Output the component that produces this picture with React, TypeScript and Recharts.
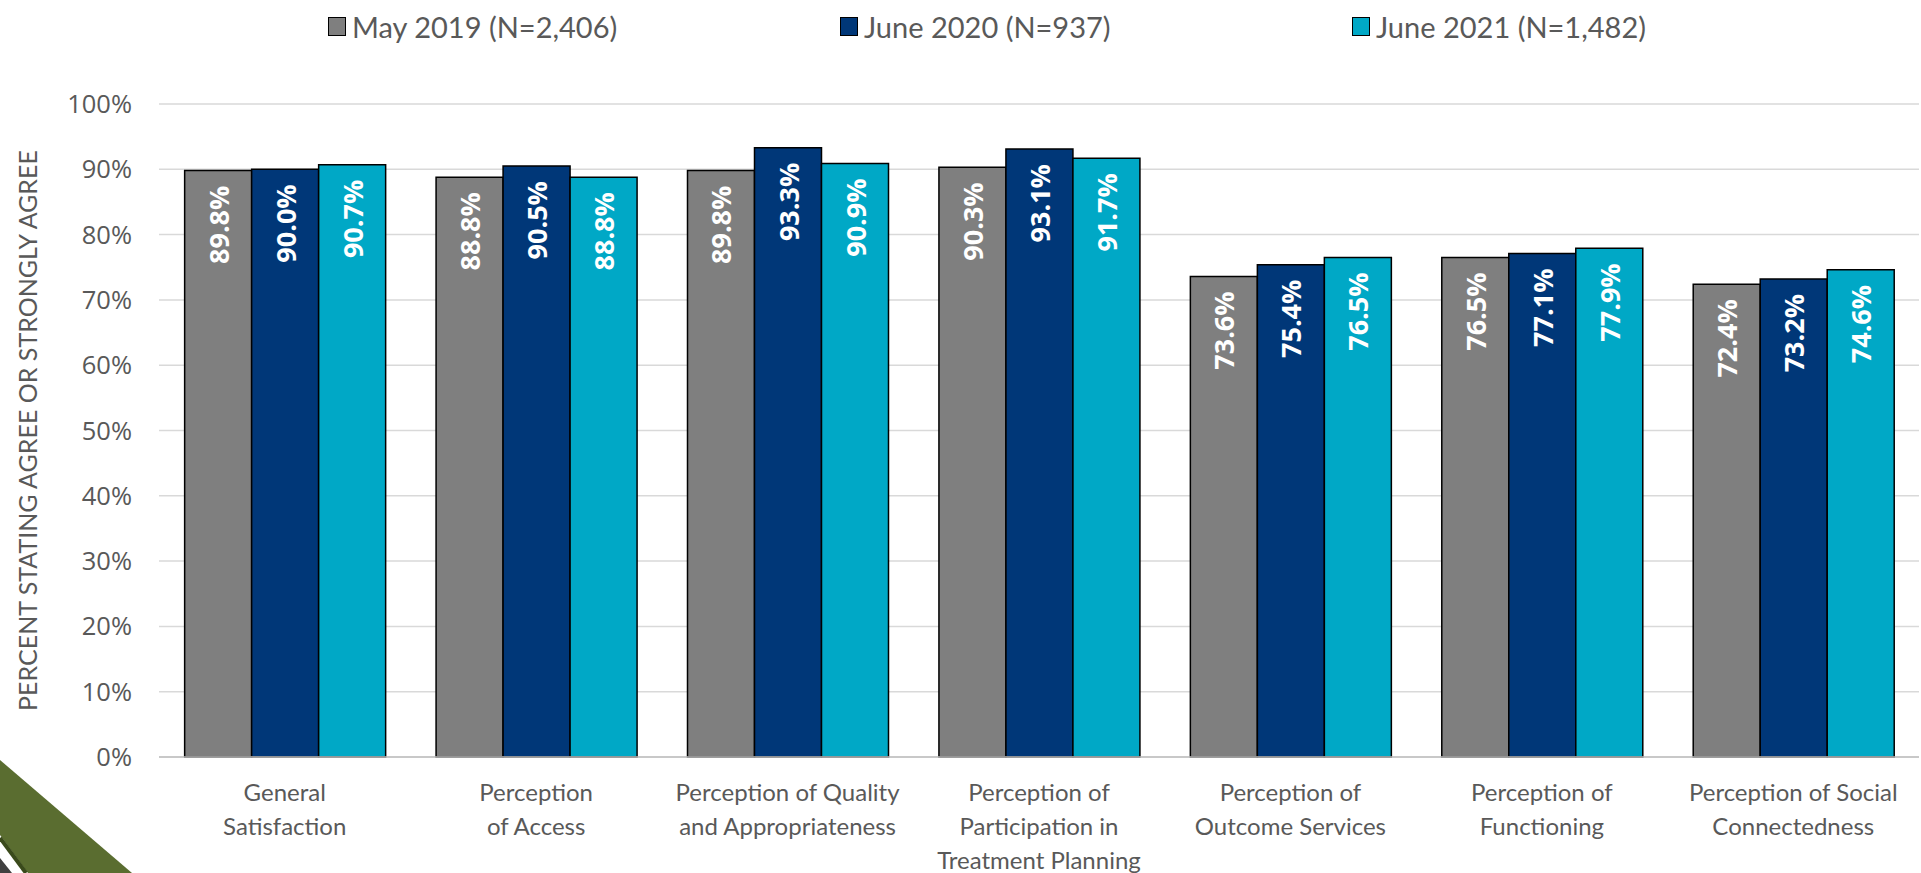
import React from "react";
import {
  BarChart,
  Bar,
  XAxis,
  YAxis,
  CartesianGrid,
  Legend,
  LabelList,
  Label,
} from "recharts";

// Survey domains along the x axis
const categories = [
  "General Satisfaction",
  "Perception of Access",
  "Perception of Quality and Appropriateness",
  "Perception of Participation in Treatment Planning",
  "Perception of Outcome Services",
  "Perception of Functioning",
  "Perception of Social Connectedness",
];

// How each category name is broken into lines under the axis
const categoryLines = [
  ["General", "Satisfaction"],
  ["Perception", "of Access"],
  ["Perception of Quality", "and Appropriateness"],
  ["Perception of", "Participation in", "Treatment Planning"],
  ["Perception of", "Outcome Services"],
  ["Perception of", "Functioning"],
  ["Perception of Social", "Connectedness"],
];

// Percent stating agree or strongly agree, per survey wave
const may2019 = [89.8, 88.8, 89.8, 90.3, 73.6, 76.5, 72.4];
const june2020 = [90.0, 90.5, 93.3, 93.1, 75.4, 77.1, 73.2];
const june2021 = [90.7, 88.8, 90.9, 91.7, 76.5, 77.9, 74.6];

const seriesNames = ["May 2019 (N=2,406)", "June 2020 (N=937)", "June 2021 (N=1,482)"];
const seriesKeys = ["may2019", "june2020", "june2021"];
const seriesColors = ["#7f7f7f", "#003778", "#00a8c6"];

const yTicks = [0, 10, 20, 30, 40, 50, 60, 70, 80, 90, 100];
const yAxisTitle = "PERCENT STATING AGREE OR STRONGLY AGREE";

const data = categories.map((category, i) => ({
  category,
  may2019: may2019[i],
  june2020: june2020[i],
  june2021: june2021[i],
}));

const TEXT_GREY = "#595959";

const CategoryTick = (props: any) => {
  const { x, y, payload } = props;
  const idx = categories.indexOf(payload.value);
  const lines = idx >= 0 ? categoryLines[idx] : [String(payload.value)];
  return (
    <text
      x={x}
      y={y}
      textAnchor="middle"
      fill={TEXT_GREY}
      fontFamily="Lato, sans-serif"
      fontSize={24}
    >
      {lines.map((line, i) => (
        <tspan key={i} x={x} y={y + 44 + i * 34}>
          {line}
        </tspan>
      ))}
    </text>
  );
};

const BarValueLabel = (props: any) => {
  const { x, y, width, value } = props;
  const cx = Number(x) + Number(width) / 2;
  const ty = Number(y) + 15;
  return (
    <text
      x={cx}
      y={ty}
      transform={`rotate(-90, ${cx}, ${ty})`}
      textAnchor="end"
      dominantBaseline="central"
      fill="#ffffff"
      fontFamily="'Open Sans', sans-serif"
      fontWeight={700}
      fontSize={27}
    >
      {`${Number(value).toFixed(1)}%`}
    </text>
  );
};

const LegendContent = () => (
  <div style={{ position: "relative", height: 0 }}>
    <div style={{ position: "absolute", left: 328, top: 0, display: "flex" }}>
      {seriesNames.map((name, i) => (
        <div
          key={name}
          style={{ width: 512, display: "flex", alignItems: "center", height: 30 }}
        >
          <span
            style={{
              display: "inline-block",
              width: 16,
              height: 17,
              background: seriesColors[i],
              border: "1.5px solid #000",
              marginRight: 6,
            }}
          />
          <span
            style={{
              fontFamily: "Lato, sans-serif",
              fontSize: 29,
              color: TEXT_GREY,
              whiteSpace: "nowrap",
            }}
          >
            {name}
          </span>
        </div>
      ))}
    </div>
  </div>
);

const AxisTitle = (props: any) => {
  const vb = props.viewBox || {};
  const cx = (vb.x ?? 0) + 27;
  const cy = (vb.y ?? 0) + (vb.height ?? 0) / 2;
  return (
    <text
      x={cx}
      y={cy}
      transform={`rotate(-90, ${cx}, ${cy})`}
      textAnchor="middle"
      dominantBaseline="central"
      fill={TEXT_GREY}
      fontFamily="Lato, sans-serif"
      fontSize={25}
    >
      {yAxisTitle}
    </text>
  );
};

export default function App() {
  return (
    <div
      style={{
        position: "absolute",
        left: 0,
        top: 0,
        width: 1921,
        height: 873,
        background: "#ffffff",
        overflow: "hidden",
      }}
    >
      <BarChart
        width={1921}
        height={873}
        data={data}
        margin={{ top: 104, right: 2, bottom: 0, left: 0 }}
        barCategoryGap="10.2%"
        barGap={0}
      >
        <CartesianGrid vertical={false} stroke="#d9d9d9" strokeWidth={1.5} />
        <Legend
          verticalAlign="top"
          content={<LegendContent />}
          wrapperStyle={{ top: 11, left: 0, width: 1921 }}
        />
        <XAxis
          dataKey="category"
          interval={0}
          height={116}
          tickLine={false}
          tickSize={0}
          tickMargin={0}
          axisLine={{ stroke: "#bfbfbf", strokeWidth: 1.5 }}
          tick={<CategoryTick />}
        />
        <YAxis
          width={159}
          domain={[0, 100]}
          ticks={yTicks}
          interval={0}
          axisLine={false}
          tickLine={false}
          tickSize={0}
          tickMargin={27}
          tickFormatter={(v: number) => `${v}%`}
          tick={{
            fill: TEXT_GREY,
            fontFamily: "'Open Sans', sans-serif",
            fontSize: 25.5,
          }}
        >
          <Label content={<AxisTitle />} />
        </YAxis>
        {seriesKeys.map((key, i) => (
          <Bar
            key={key}
            dataKey={key}
            name={seriesNames[i]}
            fill={seriesColors[i]}
            stroke="#000000"
            strokeWidth={1.5}
            isAnimationActive={false}
          >
            <LabelList dataKey={key} content={<BarValueLabel />} />
          </Bar>
        ))}
      </BarChart>
      {/* corner accent at bottom left */}
      <svg
        style={{ position: "absolute", left: 0, top: 740 }}
        width={150}
        height={133}
      >
        <polygon points="0,20 132,133 28,133 0,95" fill="#5a6d30" />
        <line x1={0} y1={98} x2={26} y2={133} stroke="#3a4a1b" strokeWidth={4} />
        <polygon points="0,118 12,133 0,133" fill="#404040" />
      </svg>
    </div>
  );
}
